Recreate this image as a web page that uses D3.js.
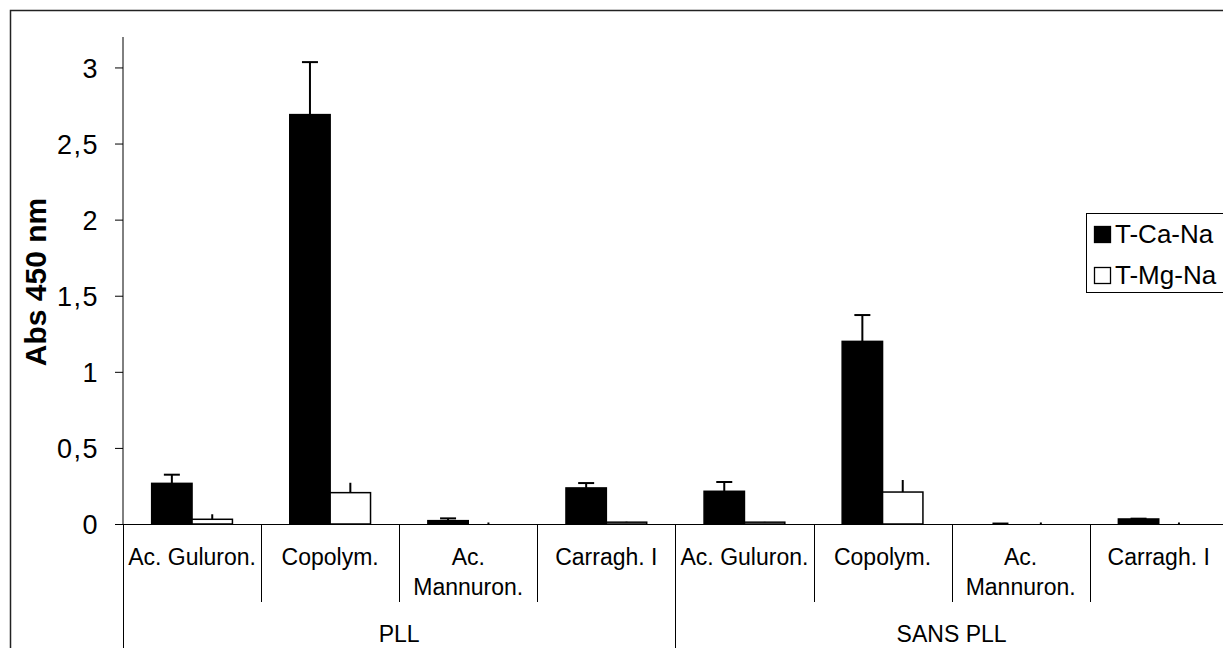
<!DOCTYPE html>
<html>
<head>
<meta charset="utf-8">
<script src="https://cdn.jsdelivr.net/npm/d3@7"></script>
<style>
  html, body { margin: 0; padding: 0; background: #fff; overflow: hidden; }
  svg { display: block; font-family: "Liberation Sans", Arial, sans-serif; }
</style>
</head>
<body>
<svg id="chart" width="1223" height="648"></svg>
<script>
// ---- data ----
const categories = ["Ac. Guluron.", "Copolym.", "Ac. Mannuron.", "Carragh. I",
                    "Ac. Guluron.", "Copolym.", "Ac. Mannuron.", "Carragh. I"];
const groups = ["PLL", "SANS PLL"];
const groupSizes = [4, 4];
const seriesNames = ["T-Ca-Na", "T-Mg-Na"];
const tCaNa    = [0.267, 2.69, 0.022, 0.237, 0.215, 1.20, 0.0, 0.033];
const tCaNaErr = [0.057, 0.345, 0.015, 0.032, 0.061, 0.173, 0.003, 0.002];
const tMgNa    = [0.031, 0.206, 0.0, 0.012, 0.012, 0.21, 0.0, 0.0];
const tMgNaErr = [0.033, 0.065, 0.01, 0.003, 0.002, 0.079, 0.01, 0.01];
const yTicks = [0, 0.5, 1, 1.5, 2, 2.5, 3];

// ---- layout ----
const svg = d3.select("#chart");
const left = 123, baseY = 524, topY = 37, catStep = 138.1;
const right = left + categories.length * catStep;

const x0 = d3.scaleBand().domain(d3.range(categories.length)).range([left, right]).paddingInner(0).paddingOuter(0);
const x1 = d3.scaleBand().domain(seriesNames).range([0, x0.bandwidth()]).paddingInner(0).paddingOuter(0.71);
const y = d3.scaleLinear().domain([0, 3.2]).range([baseY, topY]);

const fmt = v => String(v).replace(".", ",");

// outer border
svg.append("rect").attr("x", 10.5).attr("y", 10.5).attr("width", 1260).attr("height", 700)
  .attr("fill", "none").attr("stroke", "#222").attr("stroke-width", 1.5);

// bars
const seriesData = [
  { name: seriesNames[0], vals: tCaNa, errs: tCaNaErr, fill: "#000", cap: true },
  { name: seriesNames[1], vals: tMgNa, errs: tMgNaErr, fill: "#fff", cap: false }
];

seriesData.forEach(s => {
  const g = svg.append("g");
  s.vals.forEach((v, i) => {
    const bx = x0(i) + x1(s.name);
    const bw = x1.bandwidth();
    if (v > 0) {
      g.append("rect")
        .attr("x", bx).attr("y", y(v))
        .attr("width", bw).attr("height", y(0) - y(v))
        .attr("fill", s.fill).attr("stroke", "#000").attr("stroke-width", 1.5);
    }
    const e = s.errs[i];
    if (e > 0) {
      const cx = bx + bw / 2;
      g.append("line").attr("x1", cx).attr("x2", cx)
        .attr("y1", y(v)).attr("y2", y(v + e))
        .attr("stroke", "#000").attr("stroke-width", 2);
      if (s.cap) {
        g.append("line").attr("x1", cx - 8).attr("x2", cx + 8)
          .attr("y1", y(v + e)).attr("y2", y(v + e))
          .attr("stroke", "#000").attr("stroke-width", 2);
      }
    }
  });
});

// y axis
const yAxis = d3.axisLeft(y).tickValues(yTicks).tickFormat(fmt).tickSize(8).tickPadding(16);
const yg = svg.append("g").attr("transform", `translate(${left},0)`).call(yAxis);
yg.select(".domain").remove();
yg.append("line").attr("x1", 0).attr("x2", 0).attr("y1", topY).attr("y2", baseY).attr("stroke", "#000");
yg.selectAll(".tick line").attr("stroke", "#000");
yg.selectAll(".tick text").attr("fill", "#000").style("font-size", "27px")
  .style("letter-spacing", "1.5px")
  .style("font-family", "'Liberation Sans', Arial, sans-serif").attr("dy", "0.36em");

// y title
svg.append("text")
  .attr("transform", `translate(46,282) rotate(-90)`)
  .attr("text-anchor", "middle")
  .style("font-size", "30px").style("font-weight", "bold")
  .text("Abs 450 nm");

// x axis baseline
svg.append("line").attr("x1", left).attr("x2", right).attr("y1", baseY + 0.5).attr("y2", baseY + 0.5)
  .attr("stroke", "#000");

// category dividers
const bounds = d3.range(categories.length + 1);
const groupEdges = [0];
groupSizes.reduce((acc, n) => { groupEdges.push(acc + n); return acc + n; }, 0);
bounds.forEach(b => {
  const xx = Math.round(left + b * catStep) + 0.5;
  const isGroup = groupEdges.includes(b);
  svg.append("line").attr("x1", xx).attr("x2", xx)
    .attr("y1", baseY).attr("y2", isGroup ? 660 : 602)
    .attr("stroke", "#000");
});

// category labels (wrapped)
categories.forEach((c, i) => {
  const t = svg.append("text")
    .attr("x", x0(i) + x0.bandwidth() / 2).attr("y", 565)
    .attr("text-anchor", "middle").style("font-size", "23px");
  t.text(c);
  if (t.node().getComputedTextLength() > x0.bandwidth() - 6) {
    const words = c.split(" ");
    t.text(null);
    let line = [];
    let tspan = t.append("tspan").attr("x", x0(i) + x0.bandwidth() / 2).attr("dy", 0);
    words.forEach(w => {
      line.push(w);
      tspan.text(line.join(" "));
      if (tspan.node().getComputedTextLength() > x0.bandwidth() - 6 && line.length > 1) {
        line.pop();
        tspan.text(line.join(" "));
        line = [w];
        tspan = t.append("tspan").attr("x", x0(i) + x0.bandwidth() / 2).attr("dy", 30).text(w);
      }
    });
  }
});

// group labels
let start = 0;
groups.forEach((gname, gi) => {
  const n = groupSizes[gi];
  const cx = left + (start + n / 2) * catStep;
  svg.append("text").attr("x", cx).attr("y", 642).attr("text-anchor", "middle")
    .style("font-size", "23px").text(gname);
  start += n;
});

// legend
const lg = svg.append("g");
lg.append("rect").attr("x", 1086.5).attr("y", 213.5).attr("width", 160).attr("height", 79)
  .attr("fill", "#fff").attr("stroke", "#000");
seriesData.forEach((s, i) => {
  const yy = 226 + i * 41;
  lg.append("rect").attr("x", 1094.5).attr("y", yy + 0.5).attr("width", 16).attr("height", 16)
    .attr("fill", s.fill).attr("stroke", "#000").attr("stroke-width", 1.3);
  lg.append("text").attr("x", 1115).attr("y", yy + 17).style("font-size", "26px").text(s.name);
});
</script>
</body>
</html>
